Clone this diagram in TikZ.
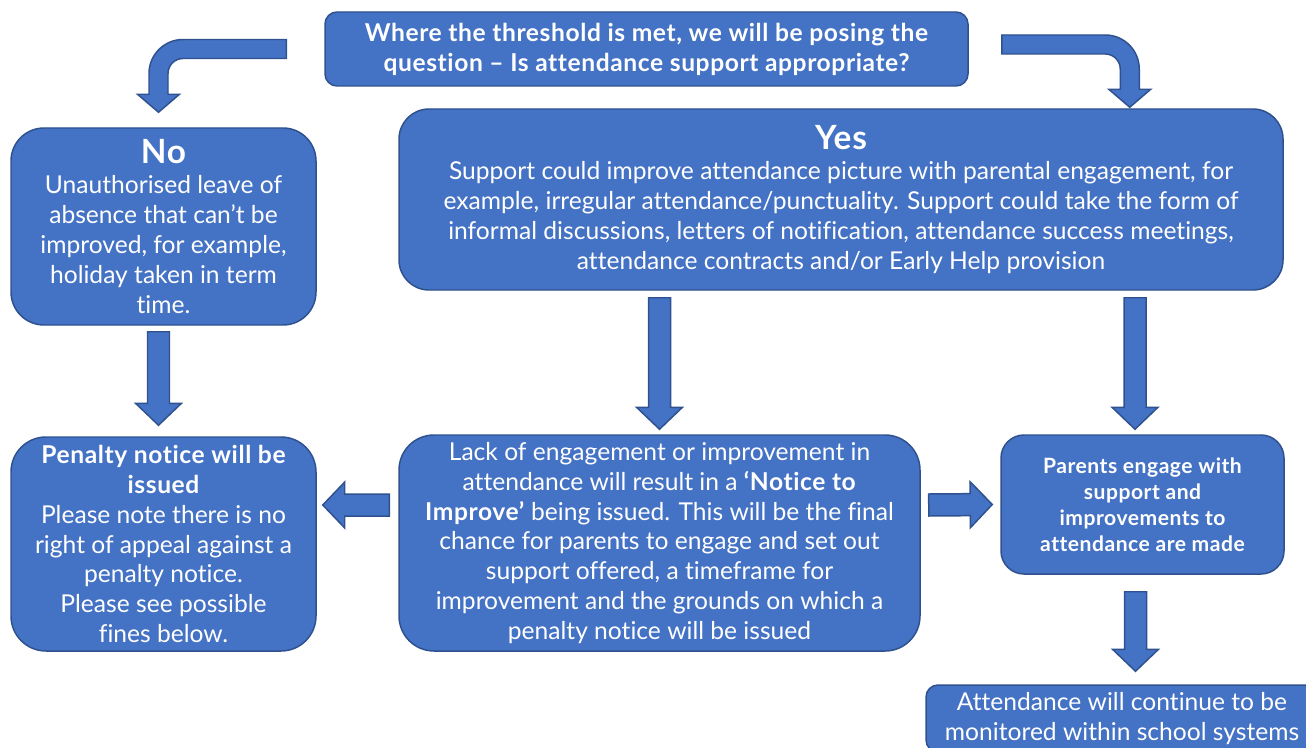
\documentclass[tikz,border=0pt]{standalone}
\usepackage{fontspec}
\setmainfont{Lato}[Ligatures=NoCommon, BoldFeatures={LetterSpace=2.4}]
\usetikzlibrary{calc}

\definecolor{boxblue}{HTML}{4472C4}
\definecolor{boxline}{HTML}{2F528F}

\begin{document}
\begin{tikzpicture}

\tikzset{vertex/.style = {shape=rectangle, draw=boxline, fill=boxblue, text=white, line width=0.85pt, align=center, inner sep=0pt, font=\fontsize{14}{17}\selectfont}}
\tikzset{fatedge/.style = {draw=boxline, fill=boxblue, line width=0.85pt,
  to path={let \p1=(\tikztostart), \p2=(\tikztotarget), \p3=($(\p2)!0.44cm!(\p1)$) in
  ($(\p1)!0.22cm!90:(\p2)$) -- ($(\p3)!0.22cm!-90:(\p1)$) -- ($(\p3)!0.46cm!-90:(\p1)$) -- (\p2)
  -- ($(\p3)!0.46cm!90:(\p1)$) -- ($(\p3)!0.22cm!90:(\p1)$) -- ($(\p1)!0.22cm!-90:(\p2)$) -- cycle}}}
\tikzset{bentedge/.style = {draw=boxline, fill=boxblue, line width=0.85pt,
  to path={let \p1=(\tikztostart), \p2=(\tikztotarget), \n3={(\x2-\x1)/abs(\x2-\x1)} in
  (\x1,{\y1+0.19cm}) -- ({\x2+\n3*0.19cm-\n3*0.68cm},{\y1+0.19cm})
  arc[start angle=90, delta angle=-90*\n3, radius=0.68cm]
  -- ({\x2+\n3*0.19cm},{\y2+0.36cm}) -- ({\x2+\n3*0.42cm},{\y2+0.36cm}) -- (\p2)
  -- ({\x2-\n3*0.42cm},{\y2+0.36cm}) -- ({\x2-\n3*0.19cm},{\y2+0.36cm})
  -- ({\x2-\n3*0.19cm},{\y1-0.49cm})
  arc[start angle=90-90*\n3, delta angle=90*\n3, radius=0.30cm]
  -- (\x1,{\y1-0.19cm}) -- cycle}}}

\useasboundingbox (0,0) rectangle (26.12,14.94);
\clip (0,0) rectangle (26.12,14.94);

%boxes
\node[vertex, rounded corners=0.24cm, minimum width=12.86cm, minimum height=1.48cm, font=\fontsize{14}{17}\selectfont\bfseries] (1) at (12.93,13.96)
  {Where the threshold is met, we will be posing the\\question – Is attendance support appropriate?};
\node[vertex, rounded corners=0.66cm, minimum width=6.10cm, minimum height=3.94cm] (2) at (3.27,10.41)
  {\fontsize{19}{21}\selectfont\bfseries No\\Unauthorised leave of\\absence that can’t be\\improved, for example,\\holiday taken in term\\time.};
\node[vertex, rounded corners=0.60cm, minimum width=17.68cm, minimum height=3.62cm] (3) at (16.82,10.95)
  {\fontsize{19}{21}\selectfont\bfseries Yes\\Support could improve attendance picture with parental engagement, for\\example, irregular attendance/punctuality. Support could take the form of\\informal discussions, letters of notification, attendance success meetings,\\attendance contracts and/or Early Help provision};
\node[vertex, rounded corners=0.70cm, minimum width=6.10cm, minimum height=4.28cm] (4) at (3.27,4.06)
  {\bfseries Penalty notice will be\\\bfseries issued\\\mdseries Please note there is no\\\mdseries right of appeal against a\\\mdseries penalty notice.\\\mdseries Please see possible\\\mdseries fines below.};
\node[vertex, rounded corners=0.70cm, minimum width=10.42cm, minimum height=4.32cm] (5) at (13.19,4.08)
  {Lack of engagement or improvement in\\attendance will result in a \textbf{‘Notice to}\\\textbf{Improve’} being issued. This will be the final\\chance for parents to engage and set out\\support offered, a timeframe for\\improvement and the grounds on which a\\penalty notice will be issued};
\node[vertex, rounded corners=0.46cm, minimum width=5.66cm, minimum height=2.78cm, font=\fontsize{12}{14.8}\selectfont\bfseries\addfontfeature{LetterSpace=5.5}] (6) at (22.85,4.85)
  {Parents engage with\\support and\\improvements to\\attendance are made};
\node[vertex, rounded corners=0.24cm, minimum width=7.84cm, minimum height=1.34cm] (7) at (22.44,0.57)
  {Attendance will continue to be\\monitored within school systems};

%arrows
\coordinate (a) at ([xshift=-0.76cm]1.west);
\coordinate (b) at ([xshift=0.66cm,yshift=0.09cm]1.east);
\draw[bentedge] (a) to ([xshift=-0.1cm,yshift=0.3cm]2.north);
\draw[bentedge] (b) to ($(3.north east)+(-3.08,0.02)$);
\draw[fatedge] ([xshift=-0.1cm,yshift=-0.12cm]2.south) to ([xshift=-0.1cm,yshift=0.22cm]4.north);
\draw[fatedge] ($(5.north|-3.south)+(0,-0.14)$) to ([yshift=0.1cm]5.north);
\draw[fatedge] ($(6.north|-3.south)+(-0.15,-0.14)$) to ([xshift=-0.15cm,yshift=0.1cm]6.north);
\draw[fatedge] ([xshift=-0.18cm,yshift=0.76cm]5.west) to ([xshift=0.12cm,yshift=0.78cm]4.east);
\draw[fatedge] ([xshift=0.16cm,yshift=0.76cm]5.east) to ([xshift=-0.16cm]6.west);
\draw[fatedge] ([xshift=-0.14cm,yshift=-0.34cm]6.south) to ([xshift=0.27cm,yshift=0.26cm]7.north);

\end{tikzpicture}
\end{document}
